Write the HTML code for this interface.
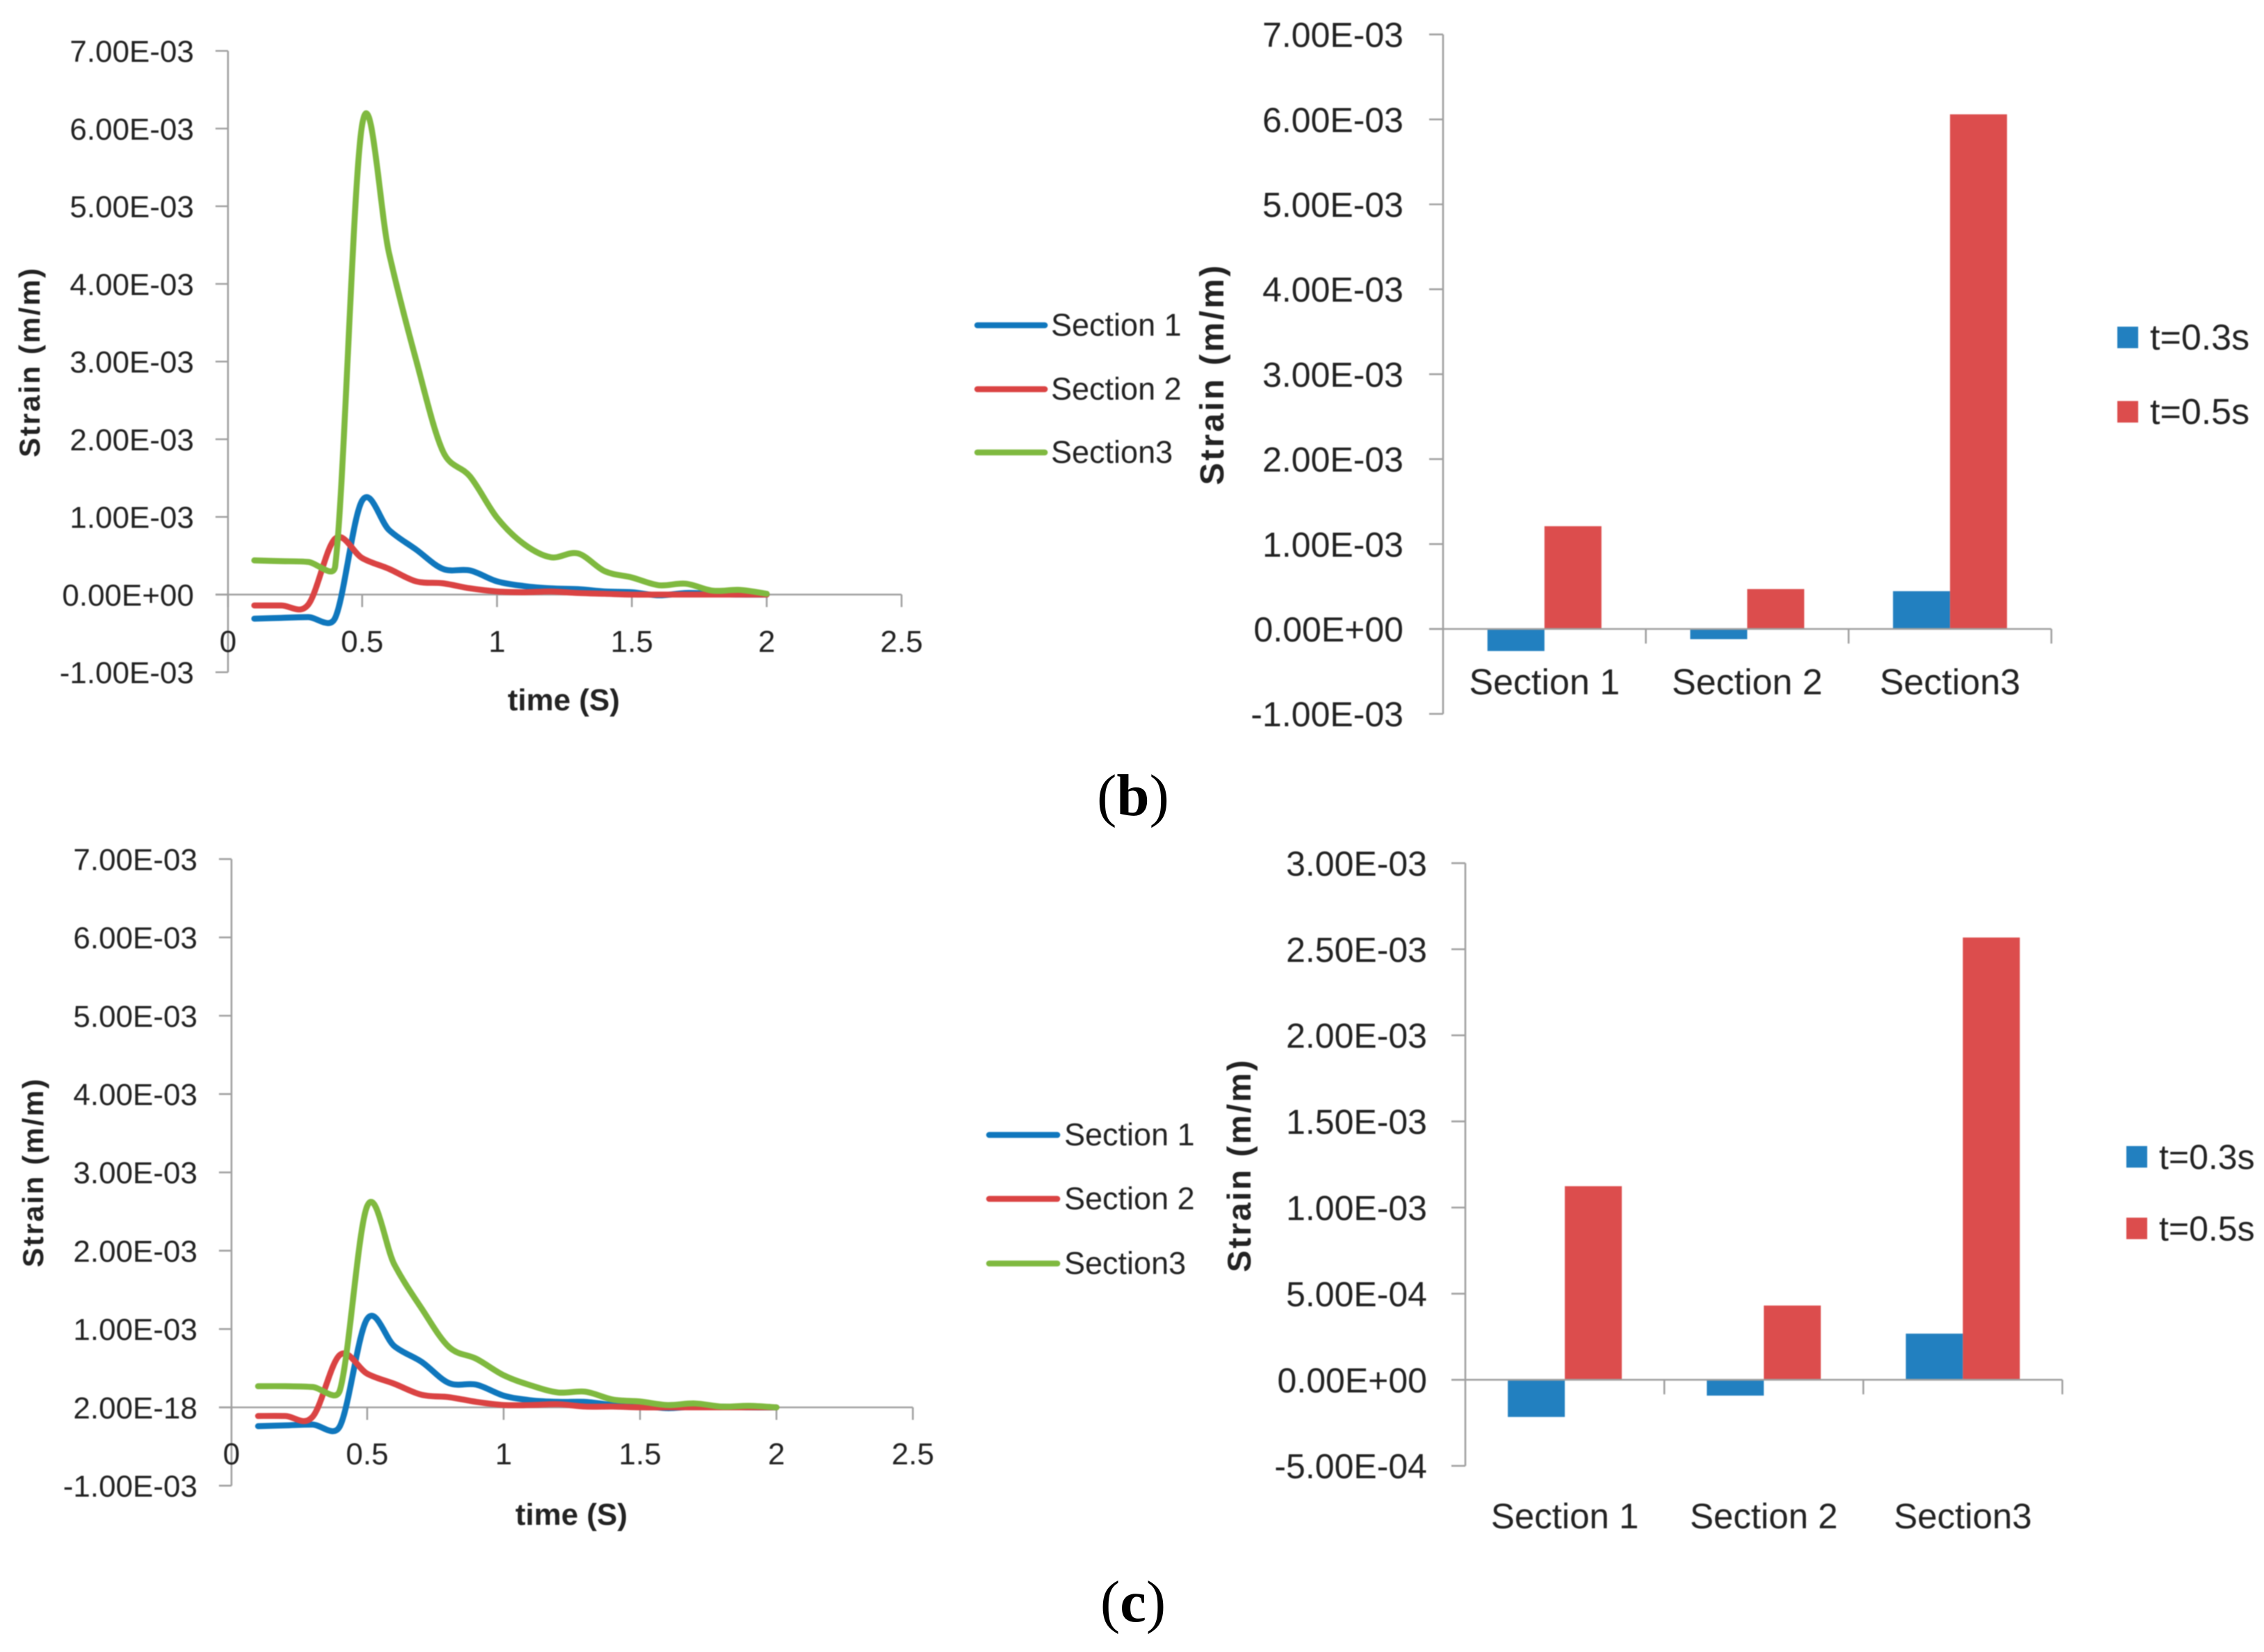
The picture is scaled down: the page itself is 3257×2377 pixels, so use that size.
<!DOCTYPE html>
<html lang="en">
<head>
<meta charset="utf-8">
<title>Strain charts</title>
<style>
html,body{margin:0;padding:0;background:#fff;}
#figure{display:block;width:3257px;height:2377px;background:#fff;}
#figure text{font-family:"Liberation Sans",sans-serif;fill:#222;}
#figure text.caption{font-family:"Liberation Serif",serif;fill:#000;font-size:85px;}
.soft{filter:blur(0.7px);}
</style>
</head>
<body>
<svg id="figure" xmlns="http://www.w3.org/2000/svg" width="3257" height="2377" viewBox="0 0 3257 2377">
  <text class="caption" x="1630" y="1173" text-anchor="middle">(<tspan font-weight="bold">b</tspan>)</text>
  <text class="caption" x="1630" y="2333" text-anchor="middle">(<tspan font-weight="bold">c</tspan>)</text>
</svg>
<script>
// Shared chart data (strain values are in units of 1e-3 m/m)
const timeValues = [0.1,0.2,0.3,0.4,0.5,0.6,0.7,0.8,0.9,1.0,1.1,1.2,1.3,1.4,1.5,1.6,1.7,1.8,1.9,2.0];
const timeTicks = [0,0.5,1,1.5,2,2.5];
const timeTickLabels = ['0','0.5','1','1.5','2','2.5'];
const lineNames = ['Section 1','Section 2','Section3'];
const barCategories = ['Section 1','Section 2','Section3'];
const barSeriesNames = ['t=0.3s','t=0.5s'];

// Panel (b) line chart
const lineBTicks = [-1,0,1,2,3,4,5,6,7];
const lineBTickLabels = ['-1.00E-03','0.00E+00','1.00E-03','2.00E-03','3.00E-03','4.00E-03','5.00E-03','6.00E-03','7.00E-03'];
const lineBSection1 = [-0.31,-0.30,-0.29,-0.30,1.21,0.83,0.58,0.33,0.31,0.17,0.11,0.08,0.07,0.04,0.03,-0.01,0.02,0.01,0.00,0.00];
const lineBSection2 = [-0.14,-0.14,-0.13,0.72,0.47,0.33,0.17,0.145,0.08,0.04,0.03,0.04,0.02,0.01,0.00,0.00,0.00,0.00,0.00,0.00];
const lineBSection3 = [0.44,0.43,0.42,0.365,6.05,4.39,3.02,1.84,1.52,0.99,0.65,0.48,0.53,0.30,0.22,0.12,0.14,0.05,0.06,0.01];

// Panel (b) bar chart
const barBTicks = [-1,0,1,2,3,4,5,6,7];
const barBTickLabels = ['-1.00E-03','0.00E+00','1.00E-03','2.00E-03','3.00E-03','4.00E-03','5.00E-03','6.00E-03','7.00E-03'];
const barBT03 = [-0.26,-0.12,0.445];
const barBT05 = [1.21,0.47,6.06];

// Panel (c) line chart
const lineCTicks = [-1,0,1,2,3,4,5,6,7];
const lineCTickLabels = ['-1.00E-03','2.00E-18','1.00E-03','2.00E-03','3.00E-03','4.00E-03','5.00E-03','6.00E-03','7.00E-03'];
const lineCSection1 = [-0.24,-0.23,-0.22,-0.24,1.13,0.78,0.58,0.31,0.29,0.15,0.09,0.07,0.07,0.03,0.02,-0.01,0.01,0.01,0.00,0.00];
const lineCSection2 = [-0.11,-0.11,-0.12,0.67,0.43,0.30,0.16,0.13,0.07,0.03,0.03,0.04,0.01,0.01,0.00,0.00,0.00,0.00,0.00,0.00];
const lineCSection3 = [0.27,0.27,0.26,0.22,2.57,1.82,1.26,0.77,0.62,0.41,0.28,0.19,0.20,0.10,0.075,0.03,0.05,0.01,0.02,0.00];

// Panel (c) bar chart
const barCTicks = [-0.5,0,0.5,1,1.5,2,2.5,3];
const barCTickLabels = ['-5.00E-04','0.00E+00','5.00E-04','1.00E-03','1.50E-03','2.00E-03','2.50E-03','3.00E-03'];
const barCT03 = [-0.216,-0.092,0.268];
const barCT05 = [1.124,0.431,2.568];

const SVGNS = 'http://www.w3.org/2000/svg';
const AXIS = '#a0a0a0';
const LINE_COLORS = ['#0f77bd','#da4343','#7fb93f'];
const BAR_COLORS = ['#2280c0','#dc4d4d'];
const root = document.getElementById('figure');

function make(tag, attrs, parent){
  const el = document.createElementNS(SVGNS, tag);
  for (const k in attrs) el.setAttribute(k, attrs[k]);
  parent.appendChild(el);
  return el;
}
function layer(parent, name){
  const g = make('g', {'class':'soft'}, parent);
  
  
  return g;
}
function axisLine(parent, name, x1, y1, x2, y2){
  const el = make('line', {x1:x1,y1:y1,x2:x2,y2:y2,stroke:AXIS,'stroke-width':2.6}, parent);
  
  
  return el;
}
function label(parent, name, str, x, y, size, anchor, weight, rotate){
  const el = make('text', {x:x,y:y,'font-size':size,'text-anchor':anchor}, parent);
  if (weight) el.setAttribute('font-weight', weight);
  if (rotate) el.setAttribute('transform', 'rotate(-90 ' + x + ' ' + y + ')');
  el.textContent = str;
  
  
  return el;
}
// Spreadsheet-style smoothing: the control arm is 1/6 of the neighbour chord,
// limited to half of the segment it sits on.
function controlArm(prev, next, segLen){
  const dx = next[0] - prev[0], dy = next[1] - prev[1];
  const chord = Math.hypot(dx, dy);
  if (chord === 0) return [0, 0];
  const arm = Math.min(chord / 6, segLen / 2);
  return [dx / chord * arm, dy / chord * arm];
}
function smoothPath(pts){
  let d = 'M' + pts[0][0].toFixed(2) + ' ' + pts[0][1].toFixed(2);
  for (let i = 0; i < pts.length - 1; i++){
    const p0 = pts[Math.max(i-1,0)], p1 = pts[i], p2 = pts[i+1], p3 = pts[Math.min(i+2,pts.length-1)];
    const seg = Math.hypot(p2[0]-p1[0], p2[1]-p1[1]);
    const a1 = controlArm(p0, p2, seg), a2 = controlArm(p1, p3, seg);
    const c1x = p1[0] + a1[0], c1y = p1[1] + a1[1];
    const c2x = p2[0] - a2[0], c2y = p2[1] - a2[1];
    d += 'C' + c1x.toFixed(2) + ' ' + c1y.toFixed(2) + ' ' + c2x.toFixed(2) + ' ' + c2y.toFixed(2) + ' ' + p2[0].toFixed(2) + ' ' + p2[1].toFixed(2);
  }
  return d;
}
function drawValueAxis(g, xAxis, yScale, ticks, tickLabels, labelRight, fontSize, tickLen){
  const top = yScale(Math.max.apply(null, ticks));
  const bottom = yScale(Math.min.apply(null, ticks));
  axisLine(g, 'y-axis-line', xAxis, top, xAxis, bottom);
  ticks.forEach(function(v, i){
    const y = yScale(v);
    axisLine(g, 'y-axis-tick', xAxis - tickLen, y, xAxis, y);
    label(g, 'y-tick-label', tickLabels[i], labelRight, y + fontSize * 0.36, fontSize, 'end');
  });
}
function drawLineChart(name, f){
  const g = layer(root, name);
  const xScale = function(t){ return f.x0 + t * f.xUnit; };
  const yScale = function(v){ return f.y0 - v * f.yUnit; };
  drawValueAxis(g, f.axisX, yScale, f.ticks, f.tickLabels, f.labelRight, 44, 18);
  axisLine(g, 'x-axis-line', f.axisX - 18, f.y0, xScale(2.5), f.y0);
  timeTicks.forEach(function(t, i){
    const x = i === 0 ? f.axisX : xScale(t);
    axisLine(g, 'x-axis-tick', x, f.y0, x, f.y0 + 18);
    label(g, 'x-tick-label', timeTickLabels[i], x, f.xLabelY, 44, 'middle');
  });
  f.series.forEach(function(vals, s){
    const pts = vals.map(function(v, i){ return [xScale(timeValues[i]), yScale(v)]; });
    const path = make('path', {d:smoothPath(pts),fill:'none',stroke:LINE_COLORS[s],'stroke-width':8.6,'stroke-linecap':'round','stroke-linejoin':'round'}, g);
    
    
  });
  label(g, 'x-axis-title', 'time (S)', f.xTitleX, f.xTitleY, 44, 'middle', 'bold');
  const yt = label(g, 'y-axis-title', 'Strain  (m/m)', f.yTitleX, f.yTitleY, 42, 'middle', 'bold', true);
  yt.setAttribute('textLength', f.yTitleLen);
  f.legendY.forEach(function(ly, i){
    const sw = make('line', {x1:f.legendX1,y1:ly,x2:f.legendX2,y2:ly,stroke:LINE_COLORS[i],'stroke-width':8.6,'stroke-linecap':'round'}, g);
    
    
    label(g, 'legend-entry', lineNames[i], f.legendTextX, ly + 15, 45, 'start');
  });
}
function drawBarChart(name, f){
  const g = layer(root, name);
  const yScale = function(v){ return f.y0 - v * f.yUnit; };
  const catX = function(i){ return f.axisX + i * f.catW; };
  drawValueAxis(g, f.axisX, yScale, f.ticks, f.tickLabels, f.labelRight, f.font, 20);
  f.series.forEach(function(vals, s){
    vals.forEach(function(v, i){
      const yTop = Math.min(yScale(v), f.y0), h = Math.abs(yScale(v) - f.y0);
      const x = catX(i + 0.5) + (s - 1) * f.barW;
      const r = make('rect', {x:x,y:yTop,width:f.barW,height:h,fill:BAR_COLORS[s]}, g);
      
      
    });
  });
  axisLine(g, 'x-axis-line', f.axisX - 20, f.y0, catX(barCategories.length), f.y0);
  barCategories.forEach(function(c, i){
    axisLine(g, 'x-axis-tick', catX(i + 1), f.y0, catX(i + 1), f.y0 + 21);
    label(g, 'category-label', c, catX(i + 0.5), f.catLabelY, f.catFont, 'middle');
  });
  const yt = label(g, 'y-axis-title', 'Strain  (m/m)', f.yTitleX, f.yTitleY, f.titleFont, 'middle', 'bold', true);
  yt.setAttribute('textLength', f.yTitleLen);
  barSeriesNames.forEach(function(n, i){
    const sw = make('rect', {x:f.legendX,y:f.legendY[i],width:30,height:31,fill:BAR_COLORS[i]}, g);
    
    
    label(g, 'legend-entry', n, f.legendX + 47, f.legendY[i] + 33, f.legendFont, 'start');
  });
}

drawLineChart('line-chart-b', {
  x0:327, xUnit:388, axisX:328, y0:855.5, yUnit:111.75, labelRight:279, xLabelY:938,
  ticks:lineBTicks, tickLabels:lineBTickLabels,
  series:[lineBSection1,lineBSection2,lineBSection3],
  xTitleX:811, xTitleY:1022, yTitleX:57, yTitleY:522, yTitleLen:272,
  legendX1:1406, legendX2:1503, legendTextX:1512, legendY:[468,560,651]
});
drawBarChart('bar-chart-b', {
  axisX:2076, catW:291.7, y0:905, yUnit:122.2, labelRight:2019, font:50, catFont:52, legendFont:52, titleFont:48, barW:82, catLabelY:999,
  ticks:barBTicks, tickLabels:barBTickLabels,
  series:[barBT03,barBT05],
  yTitleX:1760, yTitleY:540, yTitleLen:316,
  legendX:3046, legendY:[470,577]
});
drawLineChart('line-chart-c', {
  x0:332, xUnit:392.5, axisX:333, y0:2025, yUnit:112.7, labelRight:284, xLabelY:2107,
  ticks:lineCTicks, tickLabels:lineCTickLabels,
  series:[lineCSection1,lineCSection2,lineCSection3],
  xTitleX:822, xTitleY:2194, yTitleX:62, yTitleY:1688, yTitleLen:271,
  legendX1:1423, legendX2:1521, legendTextX:1531, legendY:[1633,1725,1818]
});
drawBarChart('bar-chart-c', {
  axisX:2108, catW:286.3, y0:1985.3, yUnit:247.8, labelRight:2053, font:50, catFont:51, legendFont:50, titleFont:47, barW:82, catLabelY:2199,
  ticks:barCTicks, tickLabels:barCTickLabels,
  series:[barCT03,barCT05],
  yTitleX:1799, yTitleY:1678, yTitleLen:305,
  legendX:3059, legendY:[1649,1752]
});
</script>
</body>
</html>
